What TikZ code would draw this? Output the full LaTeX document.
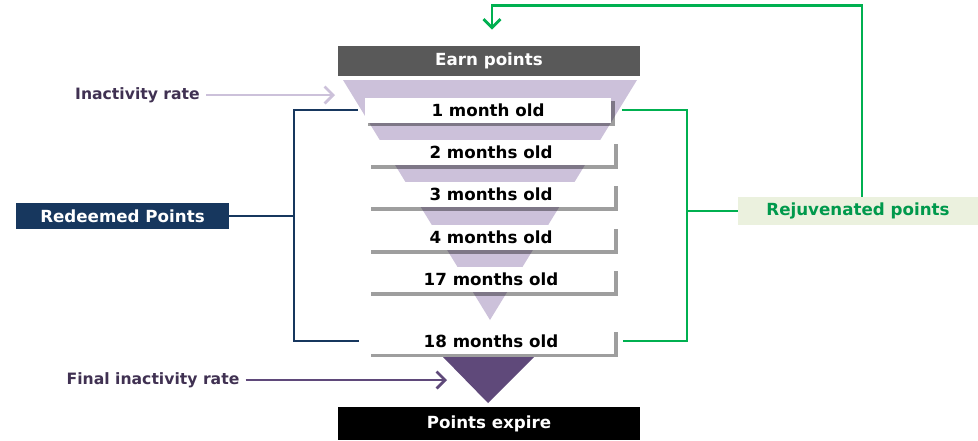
\documentclass[tikz,border=0pt]{standalone}
\usepackage{fontspec}
\setmainfont{DejaVu Sans}
\usetikzlibrary{arrows.meta,shadows}
\definecolor{earngray}{HTML}{595959}
\definecolor{funnellight}{HTML}{CCC1DA}
\definecolor{funneldark}{HTML}{5F497A}
\definecolor{sidetext}{HTML}{403152}
\definecolor{navy}{HTML}{17375E}
\definecolor{rejgreen}{HTML}{00B050}
\definecolor{rejtext}{HTML}{00994C}
\definecolor{rejfill}{HTML}{EBF1DE}
\begin{document}
\begin{tikzpicture}[x=0.02cm, y=-0.02cm, >={Straight Barb[length=1.7mm,width=3.4mm]},
    lbl/.style={font=\fontsize{9.5}{11}\selectfont\bfseries, inner sep=0pt},
    headbox/.style={lbl, text=white, minimum width=6.04cm},
    agebox/.style={lbl, fill=white, minimum width=4.94cm, minimum height=0.5cm,
        drop shadow={shadow xshift=0.07cm, shadow yshift=-0.07cm, fill=black, opacity=0.38}},
    sidelbl/.style={font=\fontsize{8.9}{11}\selectfont\bfseries, text=sidetext},
    navyline/.style={navy, line width=1.6pt},
    greenline/.style={rejgreen, line width=1.6pt}]
    \useasboundingbox (0,0) rectangle (978,440);
    \fill[funnellight] (343,80) -- (637,80) -- (490,320) -- cycle;
    \fill[funneldark] (443,357) -- (534,357) -- (488,403) -- cycle;
    \node[headbox, fill=earngray, minimum height=0.6cm] (earn) at (489,61) {Earn points};
    \node[headbox, fill=black, minimum height=0.66cm] (expire) at (489,423.5) {Points expire};
    \node[agebox] (age1) at (488,110) {1 month old};
    \node[agebox] (age2) at (491,152.5) {2 months old};
    \node[agebox] (age3) at (491,194.5) {3 months old};
    \node[agebox] (age4) at (491,237.5) {4 months old};
    \node[agebox] (age17) at (491,279.5) {17 months old};
    \node[agebox] (age18) at (491,341) {18 months old};
    % inactivity arrows
    \node[sidelbl] (inact) at (137.5,95) {Inactivity rate};
    \coordinate (inacttip) at (335,95);
    \draw[->, funnellight, line width=1.6pt] (inact) -- (inacttip);
    \node[sidelbl] (finalrate) at (153,380) {Final inactivity rate};
    \coordinate (finaltip) at (447,380);
    \draw[->, funneldark, line width=1.6pt] (finalrate) -- (finaltip);
    % redeemed bracket
    \node[lbl, fill=navy, text=white, minimum width=4.26cm, minimum height=0.52cm] (redeem) at (122.5,216) {Redeemed Points};
    \coordinate (lbar) at (294,216);
    \draw[navyline] (redeem.east) -- (lbar);
    \draw[navyline] ([xshift=-0.13cm]age1.west) -| (lbar) |- ([xshift=-0.17cm]age18.west);
    % rejuvenated bracket
    \node[lbl, fill=rejfill, text=rejtext, minimum width=4.8cm, minimum height=0.56cm] (rejuv) at (858,211) {Rejuvenated points};
    \coordinate (rbar) at (687,211);
    \draw[greenline] (rbar) -- (rejuv.west);
    \draw[greenline] ([xshift=0.2cm]age1.east) -| (rbar) |- ([xshift=0.17cm]age18.east);
    \coordinate (earntop) at ([xshift=0.06cm, yshift=0.32cm]earn.north);
    \draw[greenline, ->] ([xshift=0.08cm]rejuv.north) -- ++(0,-191) -| (earntop);
\end{tikzpicture}
\end{document}
